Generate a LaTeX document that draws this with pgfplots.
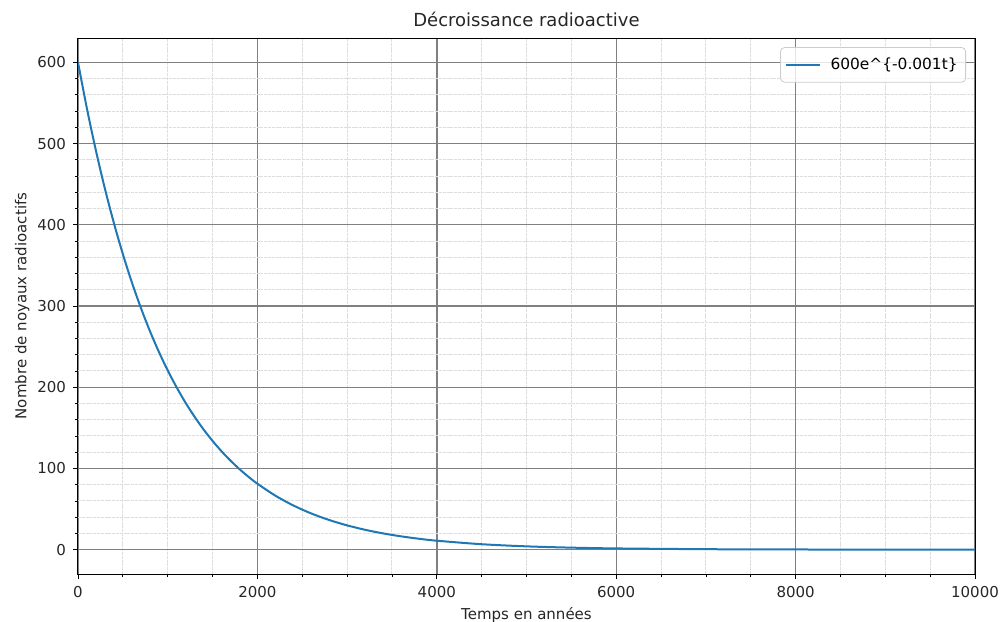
\documentclass[border=0pt]{standalone}
\usepackage{fontspec}
\setmainfont{DejaVu Sans}
\usepackage{pgfplots}
\pgfplotsset{compat=1.18}
\definecolor{mplblue}{HTML}{1F77B4}
\begin{document}
\begin{tikzpicture}
\useasboundingbox (0,0) rectangle (500pt,310.5pt);
\begin{axis}[
  at={(39pt,23.5pt)}, anchor=south west,
  width=448.5pt, height=268pt, scale only axis,
  xmin=0, xmax=10000, ymin=-30, ymax=630,
  xtick={0,2000,4000,6000,8000,10000},
  ytick={0,100,200,300,400,500,600},
  minor x tick num=3, minor y tick num=4,
  xtick pos=bottom, ytick pos=left,
  scaled ticks=false,
  /pgf/number format/1000 sep={},
  /pgf/number format/assume math mode=true,
  tick align=outside,
  major tick length=2.5pt, minor tick length=1.5pt,
  tick style={black, line width=0.4pt},
  axis line style={black, line width=0.5pt},
  grid=both,
  major grid style={black!50, line width=0.7pt},
  minor grid style={black!13, line width=0.5pt, dash pattern=on 1.5pt off 0.4pt},
  ticklabel style={font=\fontsize{7.5pt}{9pt}\selectfont, text=black!85},
  label style={font=\fontsize{7.5pt}{9pt}\selectfont, text=black!85},
  title style={font=\fontsize{9pt}{11pt}\selectfont, text=black!85, yshift=-4pt},
  title={Décroissance radioactive},
  xlabel={Temps en années},
  ylabel={Nombre de noyaux radioactifs},
  xlabel style={yshift=2pt},
  ylabel style={yshift=-3pt},
  legend style={at={(0.99,0.983)}, anchor=north east, rounded corners=2pt,
    draw=black!20, fill=white, fill opacity=0.8, text opacity=1,
    font=\fontsize{7.7pt}{9pt}\selectfont, inner xsep=2pt, inner ysep=3pt},
  legend image code/.code={\draw[#1] (0pt,0pt) -- (17pt,0pt); \path (20pt,0pt);},
  legend cell align=left,
]
\addplot[mplblue, line width=1pt, smooth] coordinates {
(0,600) (100,542.90) (200,491.24) (300,444.49) (400,402.19) (500,363.92)
(600,329.29) (700,297.95) (800,269.60) (900,243.94) (1000,220.73)
(1100,199.72) (1200,180.72) (1300,163.52) (1400,147.96) (1500,133.88)
(1600,121.14) (1700,109.61) (1800,99.18) (1900,89.74) (2000,81.20)
(2200,66.48) (2400,54.43) (2600,44.56) (2800,36.49) (3000,29.87)
(3200,24.46) (3400,20.02) (3600,16.39) (3800,13.42) (4000,10.99)
(4500,6.67) (5000,4.04) (5500,2.45) (6000,1.49) (7000,0.55)
(8000,0.20) (9000,0.07) (10000,0.03)
};
\addlegendentry{600e\textasciicircum\{-0.001t\}}
\end{axis}
\end{tikzpicture}
\end{document}
